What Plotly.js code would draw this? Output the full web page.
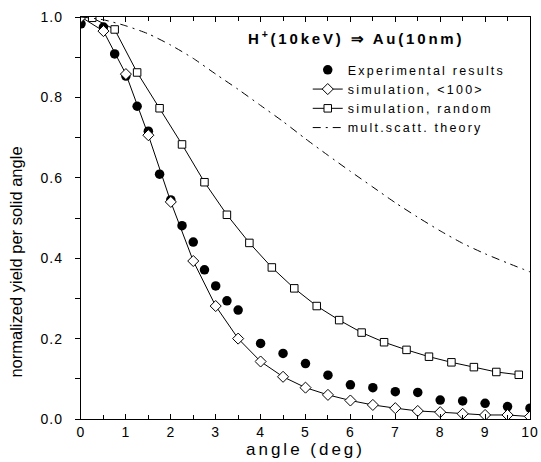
<!DOCTYPE html>
<html>
<head>
<meta charset="utf-8">
<script src="https://cdn.plot.ly/plotly-3.0.1.min.js"></script>
<style>
  html, body { margin: 0; padding: 0; background: #fff; }
  #chart { width: 541px; height: 462px; }
  .legendtext { letter-spacing: 2.2px; }
  .xtitle { letter-spacing: 3px; }
  .xtick text, .ytick text { letter-spacing: 1px; }
  .annotation-text.lsp { letter-spacing: 2.8px; }
</style>
</head>
<body>
<div id="chart"></div>
<script>
// ---- data ----
const expAngle = [0, 0.5, 0.75, 1.0, 1.25, 1.5, 1.75, 2.0, 2.25, 2.5, 2.75, 3.0, 3.25, 3.5, 4.0, 4.5, 5.0, 5.5, 6.0, 6.5, 7.0, 7.5, 8.0, 8.5, 9.0, 9.5, 10.0];
const expYield = [0.983, 0.975, 0.908, 0.853, 0.778, 0.716, 0.609, 0.545, 0.481, 0.44, 0.371, 0.331, 0.294, 0.271, 0.188, 0.163, 0.138, 0.109, 0.085, 0.078, 0.068, 0.066, 0.047, 0.045, 0.039, 0.031, 0.027];

const sim100Angle = [0, 0.5, 1.0, 1.5, 2.0, 2.5, 3.0, 3.5, 4.0, 4.5, 5.0, 5.5, 6.0, 6.5, 7.0, 7.5, 8.0, 8.5, 9.0, 9.5, 10.0];
const sim100Yield = [1.0, 0.965, 0.858, 0.706, 0.54, 0.393, 0.281, 0.2, 0.143, 0.105, 0.078, 0.06, 0.046, 0.035, 0.027, 0.02, 0.017, 0.013, 0.01, 0.01, 0.006];

const simRndAngle = [0.25, 0.75, 1.25, 1.75, 2.25, 2.75, 3.25, 3.75, 4.25, 4.75, 5.25, 5.75, 6.25, 6.75, 7.25, 7.75, 8.25, 8.75, 9.25, 9.75];
const simRndYield = [0.998, 0.969, 0.862, 0.773, 0.683, 0.589, 0.508, 0.438, 0.377, 0.325, 0.281, 0.246, 0.215, 0.191, 0.172, 0.155, 0.141, 0.129, 0.117, 0.11];

const theoryAngle = [0, 0.5, 1.0, 1.5, 2.0, 2.5, 3.0, 3.5, 4.0, 4.5, 5.0, 5.5, 6.0, 6.5, 7.0, 7.5, 8.0, 8.5, 9.0, 9.5, 10.0];
const theoryYield = [1.0, 0.993, 0.978, 0.958, 0.93, 0.897, 0.858, 0.82, 0.78, 0.74, 0.697, 0.656, 0.616, 0.577, 0.538, 0.502, 0.468, 0.437, 0.411, 0.388, 0.366];

const seriesNames = ['Experimental results', 'simulation, <100>', 'simulation, random', 'mult.scatt. theory'];
const chartTitle = 'H<sup>+</sup>(10keV) \u21D2 Au(10nm)';
const xTitle = 'angle (deg)';
const yTitle = 'normalized yield per solid angle';

const FONT = 'Liberation Sans, Arial, Helvetica, sans-serif';

const traces = [
  {
    x: expAngle, y: expYield, name: seriesNames[0],
    type: 'scatter', mode: 'markers',
    marker: { symbol: 'circle', size: 9.5, color: '#000' }
  },
  {
    x: sim100Angle, y: sim100Yield, name: seriesNames[1],
    type: 'scatter', mode: 'lines+markers',
    line: { color: '#000', width: 1 },
    marker: { symbol: 'diamond', size: 8.5, color: '#fff', line: { color: '#000', width: 1 } }
  },
  {
    x: simRndAngle, y: simRndYield, name: seriesNames[2],
    type: 'scatter', mode: 'lines+markers',
    line: { color: '#000', width: 1 },
    marker: { symbol: 'square', size: 7.5, color: '#fff', line: { color: '#000', width: 1 } }
  },
  {
    x: theoryAngle, y: theoryYield, name: seriesNames[3],
    type: 'scatter', mode: 'lines',
    line: { color: '#000', width: 1, dash: '8px,5px,2px,5px', shape: 'spline', smoothing: 0.6 }
  }
];

const layout = {
  width: 541, height: 462,
  margin: { l: 81, r: 11, t: 17, b: 43 },
  paper_bgcolor: '#fff', plot_bgcolor: '#fff',
  font: { family: FONT, color: '#000', size: 14 },
  showlegend: true,
  legend: {
    x: 0.505, xanchor: 'left', y: 0.905, yanchor: 'top',
    bgcolor: 'rgba(0,0,0,0)', borderwidth: 0,
    font: { family: FONT, size: 12.5, color: '#000' },
    traceorder: 'normal'
  },
  xaxis: {
    range: [0, 10], dtick: 1, tick0: 0,
    ticks: 'inside', ticklen: 5, tickwidth: 1, tickcolor: '#000',
    minor: { dtick: 0.5, ticks: 'inside', ticklen: 4, tickcolor: '#000' },
    showline: true, linecolor: '#000', linewidth: 1.2, mirror: 'ticks',
    showgrid: false, zeroline: false,
    tickfont: { family: FONT, size: 14, color: '#000' },
    title: { text: xTitle, font: { family: FONT, size: 17, color: '#000' }, standoff: 4 }
  },
  yaxis: {
    range: [0, 1], dtick: 0.2, tick0: 0, tickformat: '.1f',
    ticks: 'outside', ticklen: 5, tickwidth: 1, tickcolor: '#000',
    ticklabelstandoff: 9,
    minor: { dtick: 0.1, ticks: 'outside', ticklen: 5, tickcolor: '#000' },
    showline: true, linecolor: '#000', linewidth: 1.2, mirror: true,
    showgrid: false, zeroline: false,
    tickfont: { family: FONT, size: 14, color: '#000' }
  },
  yaxis2: {
    range: [0, 1], dtick: 0.2, tick0: 0, overlaying: 'y', side: 'right', anchor: 'x',
    ticks: 'inside', ticklen: 5, tickwidth: 1, tickcolor: '#000',
    minor: { dtick: 0.1, ticks: 'inside', ticklen: 5, tickcolor: '#000' },
    showticklabels: false, showline: true, linecolor: '#000', linewidth: 1.2,
    showgrid: false, zeroline: false
  },
  annotations: [
    {
      text: chartTitle, xref: 'paper', yref: 'paper', x: 0.612, y: 0.95,
      xanchor: 'center', yanchor: 'middle', showarrow: false,
      font: { family: FONT, size: 15, color: '#000', weight: 'bold' }
    },
    {
      text: yTitle, xref: 'paper', yref: 'paper', x: -0.144, y: 0.39,
      xanchor: 'center', yanchor: 'middle', showarrow: false, textangle: -90,
      font: { family: FONT, size: 16.5, color: '#000' }
    }
  ]
};

Plotly.newPlot('chart', traces, layout, { staticPlot: true, displayModeBar: false }).then(function () {
  const a = document.querySelectorAll('.annotation-text');
  if (a.length) a[0].classList.add('lsp');
});
</script>
</body>
</html>
